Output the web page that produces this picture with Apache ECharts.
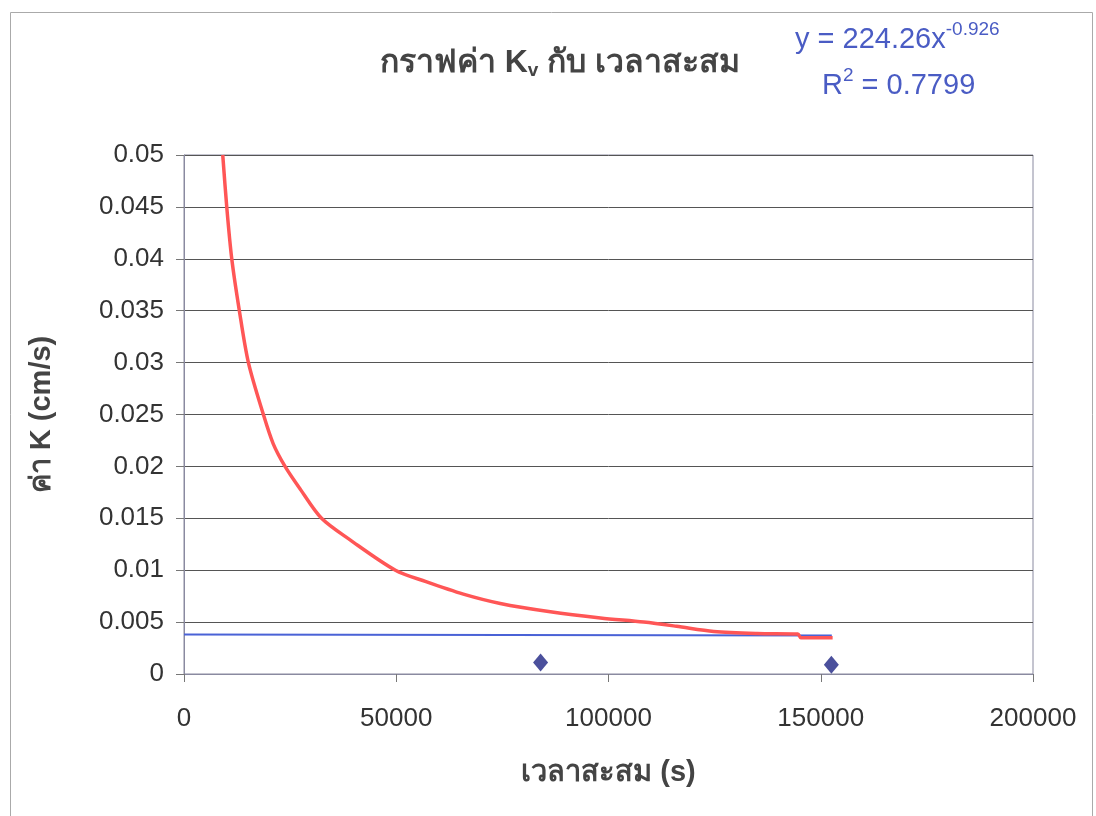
<!DOCTYPE html>
<html>
<head>
<meta charset="utf-8">
<script src="https://cdn.jsdelivr.net/npm/echarts@6/dist/echarts.min.js"></script>
<style>html,body{margin:0;padding:0;background:#fff}#c{width:1096px;height:816px}</style>
</head>
<body>
<div id="c"></div>
<script>
// ---- data ----
var trendTime = [9127, 10070, 11250, 13040, 15170, 18700, 21000, 23800, 27400, 32400, 39200, 49800, 57000, 65800, 74500, 86300, 98100, 108300, 116000, 124800, 135000, 144600, 145300, 152800];
var trendK    = [0.05, 0.045, 0.04, 0.035, 0.03, 0.025, 0.0222, 0.02, 0.0178, 0.015, 0.0129, 0.01, 0.0089, 0.0077, 0.0068, 0.006, 0.0054, 0.005, 0.0046, 0.0041, 0.0039, 0.00385, 0.0035, 0.0035];
var levelTime = [0, 152600];
var levelK    = [0.0038, 0.0037];
var pointTime = [84000, 152500];
var pointK    = [0.0011, 0.0009];
var xTicks = [0, 50000, 100000, 150000, 200000];
var yTicks = [0, 0.005, 0.01, 0.015, 0.02, 0.025, 0.03, 0.035, 0.04, 0.045, 0.05];
var titleText = 'กราฟค่า K';
var titleSub = 'v';
var titleRest = ' กับ เวลาสะสม';
var xName = 'เวลาสะสม (s)';
var yName = 'ค่า K (cm/s)';

function zip(a, b) { return a.map(function (v, i) { return [v, b[i]]; }); }

var FONT = '"Liberation Sans", Arial, "Noto Sans", sans-serif';
var chart = echarts.init(document.getElementById('c'));
chart.setOption({
  animation: false,
  backgroundColor: '#fff',
  grid: { left: 184, right: 63, top: 155, bottom: 142, show: true, borderColor: '#8a8aa0', borderWidth: 1 },
  xAxis: {
    type: 'value', min: 0, max: 200000, interval: 50000,
    name: xName, nameLocation: 'middle', nameGap: 84,
    nameTextStyle: { fontFamily: FONT, fontSize: 29, fontWeight: 'bold', color: '#444' },
    axisLine: { show: true, lineStyle: { color: '#8a8aa0' } },
    axisTick: { show: true, length: 8, lineStyle: { color: '#777' } },
    axisLabel: { fontFamily: FONT, fontSize: 26, color: '#333', margin: 32,
      formatter: function (v) { return xTicks.indexOf(v) >= 0 ? String(v) : ''; } },
    splitLine: { show: false }
  },
  yAxis: {
    type: 'value', min: 0, max: 0.05, interval: 0.005,
    name: yName, nameLocation: 'middle', nameGap: 128, nameRotate: 90,
    nameTextStyle: { fontFamily: FONT, fontSize: 29, fontWeight: 'bold', color: '#444' },
    axisLine: { show: true, lineStyle: { color: '#8a8aa0' } },
    axisTick: { show: true, length: 8, lineStyle: { color: '#777' } },
    axisLabel: { fontFamily: FONT, fontSize: 26, color: '#333', margin: 20,
      formatter: function (v) { var r = Math.round(v * 1000) / 1000; return yTicks.indexOf(r) >= 0 ? String(r) : ''; } },
    splitLine: { show: true, lineStyle: { color: '#555', width: 1 } }
  },
  title: {
    text: '{a|' + titleText + '}{s|' + titleSub + '}{a|' + titleRest + '}',
    left: 555, top: 42, textAlign: 'center',
    textStyle: {
      rich: {
        a: { fontFamily: FONT, fontSize: 32, fontWeight: 'bold', color: '#444' },
        s: { fontFamily: FONT, fontSize: 19, fontWeight: 'bold', color: '#444', verticalAlign: 'bottom', padding: [14, 0, 0, 0] }
      }
    }
  },
  graphic: [
    { type: 'rect', left: 8, top: 10, shape: { width: 1082, height: 812 }, style: { fill: 'none', stroke: '#aaa', lineWidth: 1 }, silent: true },
    { type: 'text', left: 795, top: 20, style: {
        text: '{a|y = 224.26x}{s|-0.926}',
        rich: { a: { fontFamily: FONT, fontSize: 29, fill: '#4a5cc4' }, s: { fontFamily: FONT, fontSize: 19, fill: '#4a5cc4', padding: [0, 0, 20, 0] } } } },
    { type: 'text', left: 822, top: 66, style: {
        text: '{a|R}{s|2}{a| = 0.7799}',
        rich: { a: { fontFamily: FONT, fontSize: 29, fill: '#4a5cc4' }, s: { fontFamily: FONT, fontSize: 19, fill: '#4a5cc4', padding: [0, 0, 20, 0] } } } }
  ],
  series: [
    { type: 'line', data: zip(levelTime, levelK), showSymbol: false, lineStyle: { color: '#4a62d6', width: 2 }, z: 2 },
    { type: 'line', data: zip(trendTime, trendK), showSymbol: false, smooth: 0.3, lineStyle: { color: '#ff5656', width: 3.5 }, z: 3 },
    { type: 'scatter', data: zip(pointTime, pointK), symbol: 'diamond', symbolSize: [15, 18], itemStyle: { color: '#4b509c', opacity: 1 }, z: 4 }
  ]
});
</script>
</body>
</html>
